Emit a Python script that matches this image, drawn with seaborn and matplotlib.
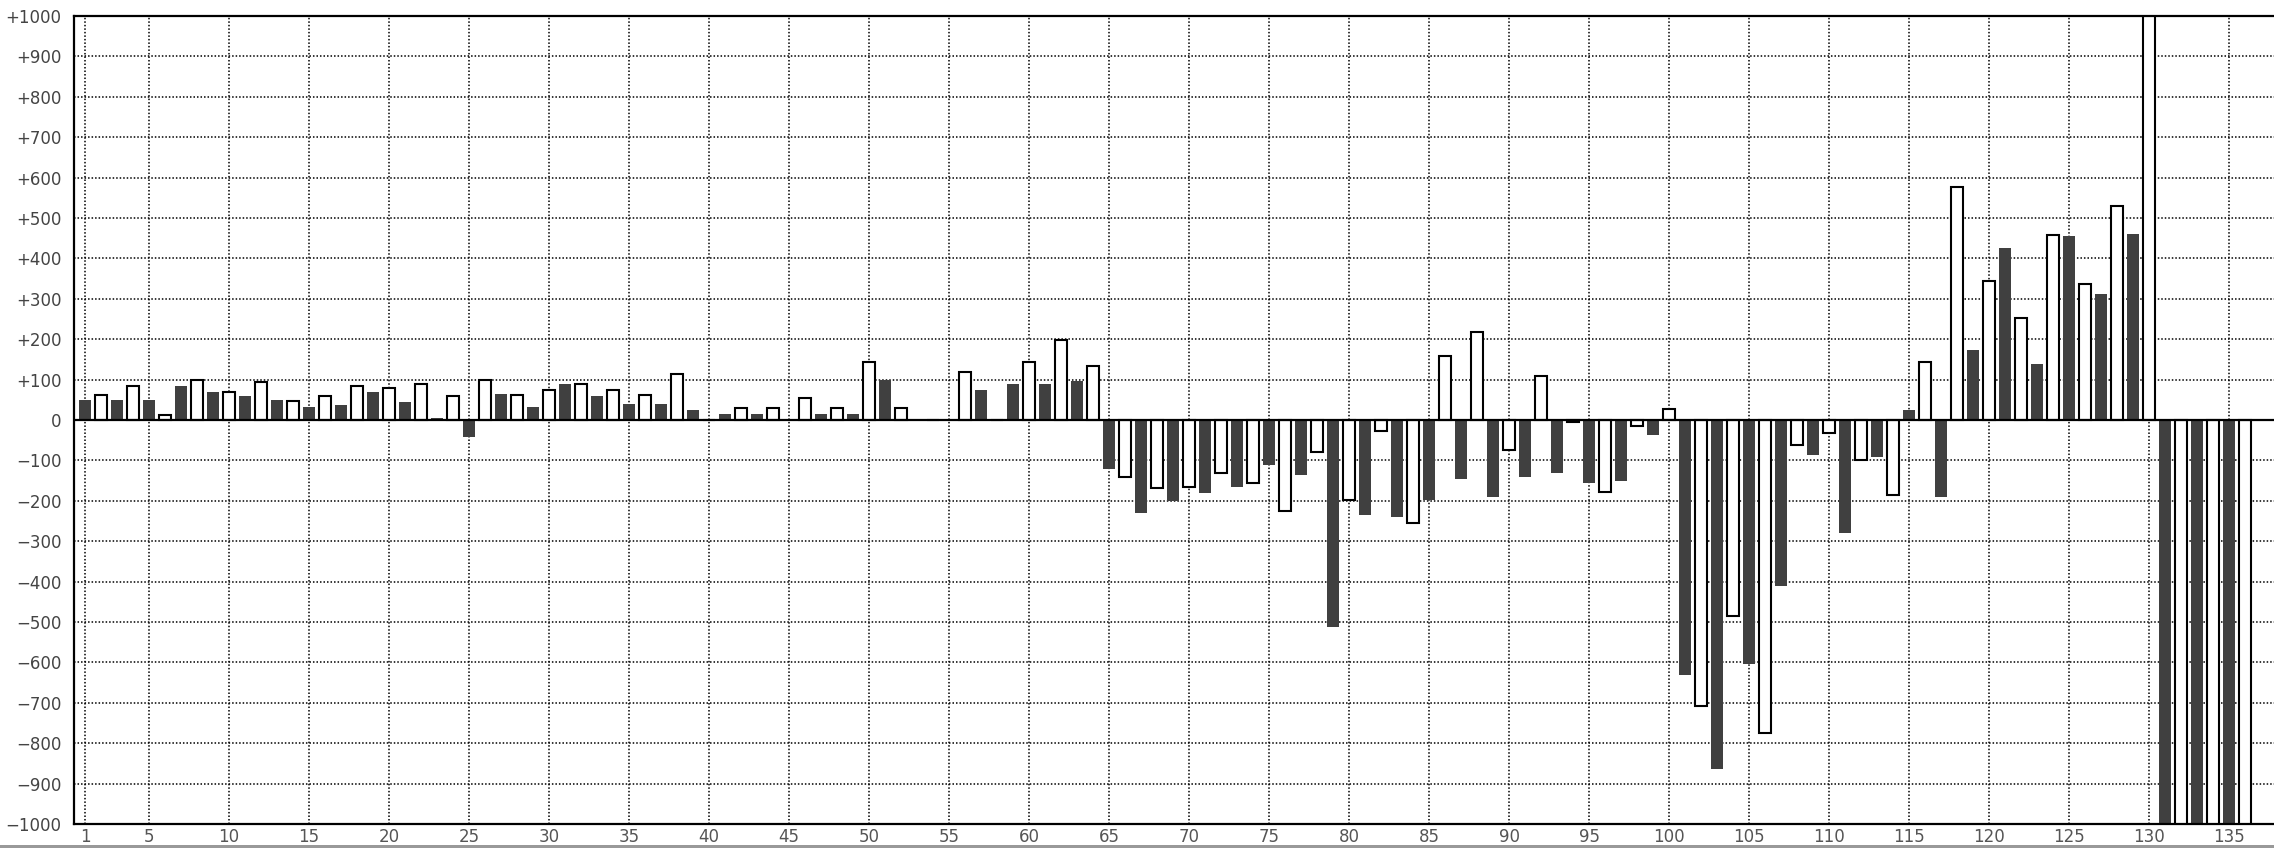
import numpy as np
import pandas as pd
import matplotlib
matplotlib.use("Agg")
import matplotlib.pyplot as plt
import seaborn as sns
from matplotlib.patches import Rectangle

# bar values, positions 1..136 (odd = dark bars, even = white bars)
positions = list(range(1, 137))
values = [
    50, 63, 50, 83, 50, 13, 84, 98, 70, 70,
    60, 95, 50, 48, 31, 59, 36, 83, 70, 79,
    45, 88, 5, 59, -43, 98, 64, 63, 31, 74,
    90, 88, 60, 74, 40, 63, 40, 114, 25, 0,
    15, 29, 15, 29, 0, 54, 15, 29, 15, 143,
    98, 29, 0, 0, 0, 118, 75, 0, 90, 143,
    90, 197, 96, 133, -122, -140, -229, -169, -201, -165,
    -181, -130, -166, -155, -112, -225, -137, -80, -513, -199,
    -236, -27, -241, -256, -198, 158, -147, 217, -191, -75,
    -142, 108, -131, -5, -157, -179, -150, -16, -36, 28,
    -632, -708, -863, -486, -605, -774, -412, -62, -87, -31,
    -280, -100, -92, -185, 25, 143, -191, 577, 174, 345,
    426, 252, 139, 459, 456, 336, 312, 529, 460, 1200,
    -1200, -1200, -1200, -1200, -1200, -1200,
]
x_ticks = [1] + list(range(5, 136, 5))
y_ticks = list(range(-1000, 1001, 100))
y_labels = ["0" if v == 0 else ("+%d" % v if v > 0 else "\u2212%d" % -v) for v in y_ticks]

df = pd.DataFrame({"pos": positions, "value": values})
df["kind"] = np.where(df["pos"] % 2 == 1, "dark", "light")

sns.set_style("white")
plt.rcParams['font.family'] = ['DejaVu Sans']

W, H = 2274, 848
fig = plt.figure(figsize=(W / 100, H / 100), dpi=100)
ax = fig.add_axes([74 / W, 24 / H, (W - 74) / W, 808 / H])

sns.barplot(data=df, x="pos", y="value", hue="kind",
            palette={"dark": "#404040", "light": "white"},
            native_scale=True, dodge=False, width=0.75, saturation=1,
            errorbar=None, legend=False, linewidth=0, ax=ax)

# white bars get a black outline
for p in ax.patches:
    if p.get_facecolor()[0] > 0.9:
        p.set_edgecolor("black")
        p.set_linewidth(1.5)

ax.set_xlim(0.3125, 137.8125)
ax.set_ylim(-1000, 1000)
ax.set_xticks(x_ticks)
ax.set_xticklabels([str(t) for t in x_ticks])
ax.set_yticks(y_ticks)
ax.set_yticklabels(y_labels)
ax.set_xlabel("")
ax.set_ylabel("")

ax.set_axisbelow(True)
ax.grid(True, color="black", linestyle=(0, (1, 1.3)), linewidth=1.1)
ax.axhline(0, color="black", linewidth=1.6, zorder=5)

for side in ["top", "left", "bottom"]:
    ax.spines[side].set_color("black")
    ax.spines[side].set_linewidth(1.6)
ax.spines["right"].set_visible(False)

ax.tick_params(axis="y", length=0, pad=9, labelsize=12, labelcolor="#444444")
ax.tick_params(axis="x", length=0, pad=3, labelsize=12, labelcolor="#555555")

# thin grey strip along the bottom edge
fig.add_artist(Rectangle((0, 0), 1, 3 / H, transform=fig.transFigure,
                         facecolor="#999999", edgecolor="none"))

fig.savefig("out.png", dpi=100)
